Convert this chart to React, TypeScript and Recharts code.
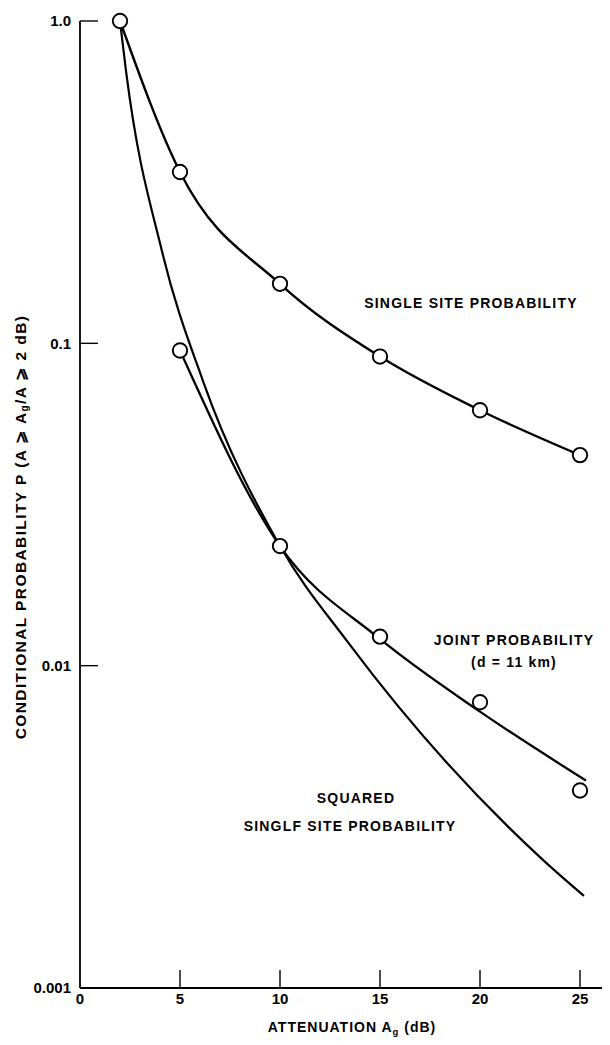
import React from "react";
import { ComposedChart, Line, Scatter, XAxis, YAxis } from "recharts";

// ---- data ----
const xTicks = [0, 5, 10, 15, 20, 25];
const yTicks = [0.001, 0.01, 0.1, 1];
const yTickLabels = ["0.001", "0.01", "0.1", "1.0"];

const singleX = [2, 5, 10, 15, 20, 25];
const singleP = [1.0, 0.34, 0.153, 0.091, 0.062, 0.045];

const jointX = [5, 10, 15, 20, 25];
const jointP = [0.095, 0.0235, 0.0123, 0.0077, 0.0041];

const jointCurveX = [5, 10, 15, 20, 25.3];
const jointCurveP = [0.095, 0.0235, 0.0121, 0.0072, 0.0044];

const squaredX = [2, 2.3, 4.1, 6.15, 10, 13.45, 23.2, 25.2];
const squaredP = [1.0, 0.7, 0.193, 0.0764, 0.0235, 0.0117, 0.00248, 0.00193];

const zip = (xs: number[], ys: number[]) => xs.map((x, i) => ({ x, y: ys[i] }));
const singleData = zip(singleX, singleP);
const jointData = zip(jointX, jointP);
const jointCurve = zip(jointCurveX, jointCurveP);
const squaredCurve = zip(squaredX, squaredP);

const FONT = "'Liberation Sans', Arial, Helvetica, sans-serif";
const Y_MARGIN = 9;
const X_MARGIN = 5;

const YTick = (props: any) => {
  const { x, y, payload } = props;
  const ax = x + Y_MARGIN;
  const idx = yTicks.indexOf(payload.value);
  const label = idx >= 0 ? yTickLabels[idx] : String(payload.value);
  return (
    <g>
      {payload.value !== 0.001 && (
        <line x1={ax} x2={ax + 18} y1={y} y2={y} stroke="#000" strokeWidth={1.4} />
      )}
      <text
        x={x}
        y={y}
        dy="0.36em"
        textAnchor="end"
        fontFamily={FONT}
        fontSize={15}
        fontWeight={payload.value === 1 ? 700 : 600}
        fill="#000"
      >
        {label}
      </text>
    </g>
  );
};

const XTick = (props: any) => {
  const { x, y, payload } = props;
  const ay = y - X_MARGIN;
  return (
    <g>
      {payload.value !== 0 && (
        <line x1={x} x2={x} y1={ay} y2={ay - 18} stroke="#000" strokeWidth={1.4} />
      )}
      <text
        x={x}
        y={y}
        dy="0.72em"
        textAnchor="middle"
        fontFamily={FONT}
        fontSize={15}
        fontWeight={600}
        fill="#000"
      >
        {payload.value}
      </text>
    </g>
  );
};

const Dot = (props: any) => {
  const { cx, cy } = props;
  if (cx == null || cy == null) return null;
  return <circle cx={cx} cy={cy} r={7.2} fill="#fff" stroke="#000" strokeWidth={1.9} />;
};

const textStyle = {
  fontFamily: FONT,
  fontSize: 14,
  fontWeight: 700,
  letterSpacing: 1.2,
  fill: "#000",
} as const;

export default function App() {
  return (
    <div style={{ position: "relative", width: 602, height: 1037 }}>
      <ComposedChart
        width={602}
        height={1037}
        margin={{ top: 13, right: 0, bottom: 0, left: 0 }}
      >
        <XAxis
          type="number"
          dataKey="x"
          domain={[0, 26.5]}
          ticks={xTicks}
          height={57}
          tickSize={0}
          tickMargin={X_MARGIN}
          tickLine={false}
          axisLine={{ stroke: "#000", strokeWidth: 1.8 }}
          tick={<XTick />}
          interval={0}
        />
        <YAxis
          type="number"
          scale="log"
          domain={[0.001, 1]}
          ticks={yTicks}
          width={72}
          tickSize={0}
          tickMargin={Y_MARGIN}
          tickLine={false}
          axisLine={{ stroke: "#000", strokeWidth: 1.8 }}
          tick={<YTick />}
          interval={0}
        />
        <Line
          data={squaredCurve}
          dataKey="y"
          type="monotone"
          stroke="#000"
          strokeWidth={2.2}
          dot={false}
          isAnimationActive={false}
          name="squared"
        />
        <Line
          data={jointCurve}
          dataKey="y"
          type="monotone"
          stroke="#000"
          strokeWidth={2.3}
          dot={false}
          isAnimationActive={false}
          name="jointCurve"
        />
        <Line
          data={singleData}
          dataKey="y"
          type="monotone"
          stroke="#000"
          strokeWidth={2.4}
          dot={false}
          isAnimationActive={false}
          name="single"
        />
        <Scatter
          data={singleData}
          dataKey="y"
          shape={<Dot />}
          isAnimationActive={false}
          name="singlePts"
        />
        <Scatter
          data={jointData}
          dataKey="y"
          shape={<Dot />}
          isAnimationActive={false}
          name="jointPts"
        />
      </ComposedChart>
      <svg
        width={602}
        height={1037}
        style={{ position: "absolute", left: 0, top: 0, pointerEvents: "none" }}
      >
        <text
          x={12}
          y={519}
          transform="rotate(-90 12 519)"
          textAnchor="middle"
          dominantBaseline="central"
          {...textStyle}
          fontSize={15.5}
          letterSpacing={1.4}
        >
          CONDITIONAL PROBABILITY P (A ⩾ A
          <tspan dy={4} fontSize={10}>g</tspan>
          <tspan dy={-4}>/A ⩾ 2 dB)</tspan>
        </text>
        <text x={344} y={1019} textAnchor="middle" dominantBaseline="central" {...textStyle} fontSize={14} letterSpacing={1}>
          ATTENUATION A
          <tspan dy={4} fontSize={9.5}>g</tspan>
          <tspan dy={-4}> (dB)</tspan>
        </text>
        <text x={463} y={295} textAnchor="middle" dominantBaseline="central" {...textStyle}>
          SINGLE SITE PROBABILITY
        </text>
        <text x={506} y={632} textAnchor="middle" dominantBaseline="central" {...textStyle}>
          JOINT PROBABILITY
        </text>
        <text x={506} y={654} textAnchor="middle" dominantBaseline="central" {...textStyle}>
          (d = 11 km)
        </text>
        <text x={348} y={790} textAnchor="middle" dominantBaseline="central" {...textStyle}>
          SQUARED
        </text>
        <text x={342} y={818} textAnchor="middle" dominantBaseline="central" {...textStyle}>
          SINGLF SITE PROBABILITY
        </text>
      </svg>
    </div>
  );
}
